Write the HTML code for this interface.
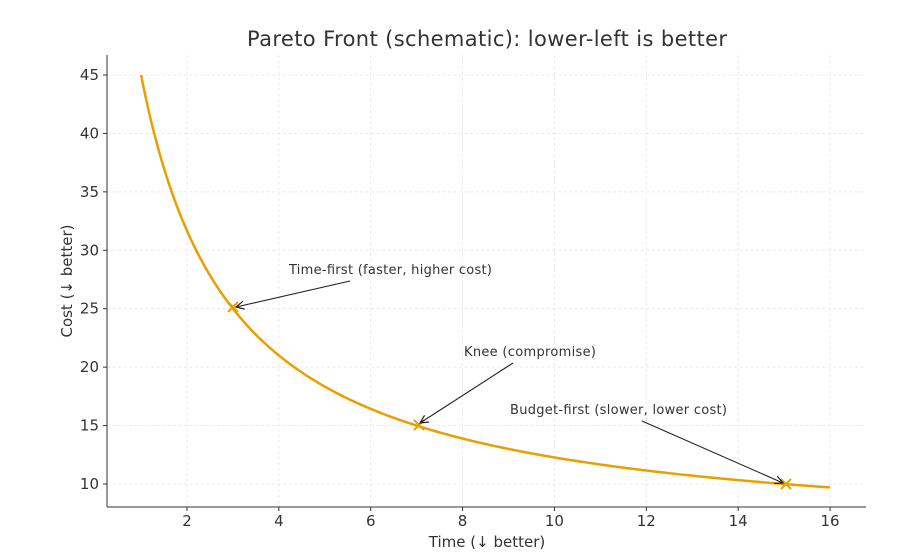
<!DOCTYPE html>
<html><head><meta charset="utf-8"><style>
body{margin:0;background:#fff;}
svg text{font-family:"DejaVu Sans","Liberation Sans",sans-serif;fill:#333;}
</style></head><body>
<svg id="s" width="918" height="552" xmlns="http://www.w3.org/2000/svg">
<rect width="918" height="552" fill="#fff"/>
<g id="grid" stroke="#e6e6e6" stroke-width="0.8" stroke-dasharray="3,2.5"></g>
<g id="ticks"></g>
<line x1="107" y1="55" x2="107" y2="507" stroke="#333" stroke-width="1"/>
<line x1="107" y1="507" x2="866" y2="507" stroke="#333" stroke-width="1"/>
<path id="curve" fill="none" stroke="#e8a000" stroke-width="2.5"/>
<g stroke="#e8a000" stroke-width="2">
<path d="M228,302 l10,10 M228,312 l10,-10"/>
<path d="M414,420 l10,10 M414,430 l10,-10"/>
<path d="M781,479 l10,10 M781,489 l10,-10"/>
</g>
<defs><marker id="a" markerWidth="10" markerHeight="10" refX="9" refY="5" orient="auto" markerUnits="userSpaceOnUse"><path d="M1,1 L9,5 L1,9" fill="none" stroke="#222" stroke-width="1.2"/></marker></defs>
<g stroke="#222" stroke-width="1.1" marker-end="url(#a)">
<line x1="350" y1="281" x2="236" y2="307"/>
<line x1="513" y1="363" x2="420" y2="423"/>
<line x1="642" y1="421" x2="783" y2="483"/>
</g>
<text x="289" y="274" font-size="13" textLength="203">Time-first (faster, higher cost)</text>
<text x="464" y="356" font-size="13" textLength="132">Knee (compromise)</text>
<text x="510" y="414" font-size="13" textLength="217">Budget-first (slower, lower cost)</text>
<text x="487" y="46" font-size="21" text-anchor="middle" textLength="480">Pareto Front (schematic): lower-left is better</text>
<text x="487" y="547" font-size="15" text-anchor="middle">Time (↓ better)</text>
<text transform="translate(72,281) rotate(-90)" font-size="15" text-anchor="middle">Cost (↓ better)</text>
</svg>
<script>
const px=x=>187+(x-2)*45.93, py=y=>484-(y-10)*11.686;
const g=document.getElementById('grid'),t=document.getElementById('ticks');
let gh='',th='';
for(let x=2;x<=16;x+=2){const X=px(x);gh+=`<line x1="${X}" y1="55" x2="${X}" y2="507"/>`;th+=`<line x1="${X}" y1="507" x2="${X}" y2="511" stroke="#333"/><text x="${X}" y="526" font-size="15" text-anchor="middle">${x}</text>`;}
for(let y=10;y<=45;y+=5){const Y=py(y);gh+=`<line x1="107" y1="${Y}" x2="866" y2="${Y}"/>`;th+=`<line x1="103" y1="${Y}" x2="107" y2="${Y}" stroke="#333"/><text x="99" y="${Y+5}" font-size="15" text-anchor="end">${y}</text>`;}
g.innerHTML=gh;t.innerHTML=th;
let d='';
for(let i=0;i<=300;i++){const x=1+15*i/300,y=5+80/(x+1);d+=(i?' L':'M')+px(x).toFixed(2)+','+py(y).toFixed(2);}
document.getElementById('curve').setAttribute('d',d);
</script>
</body></html>
